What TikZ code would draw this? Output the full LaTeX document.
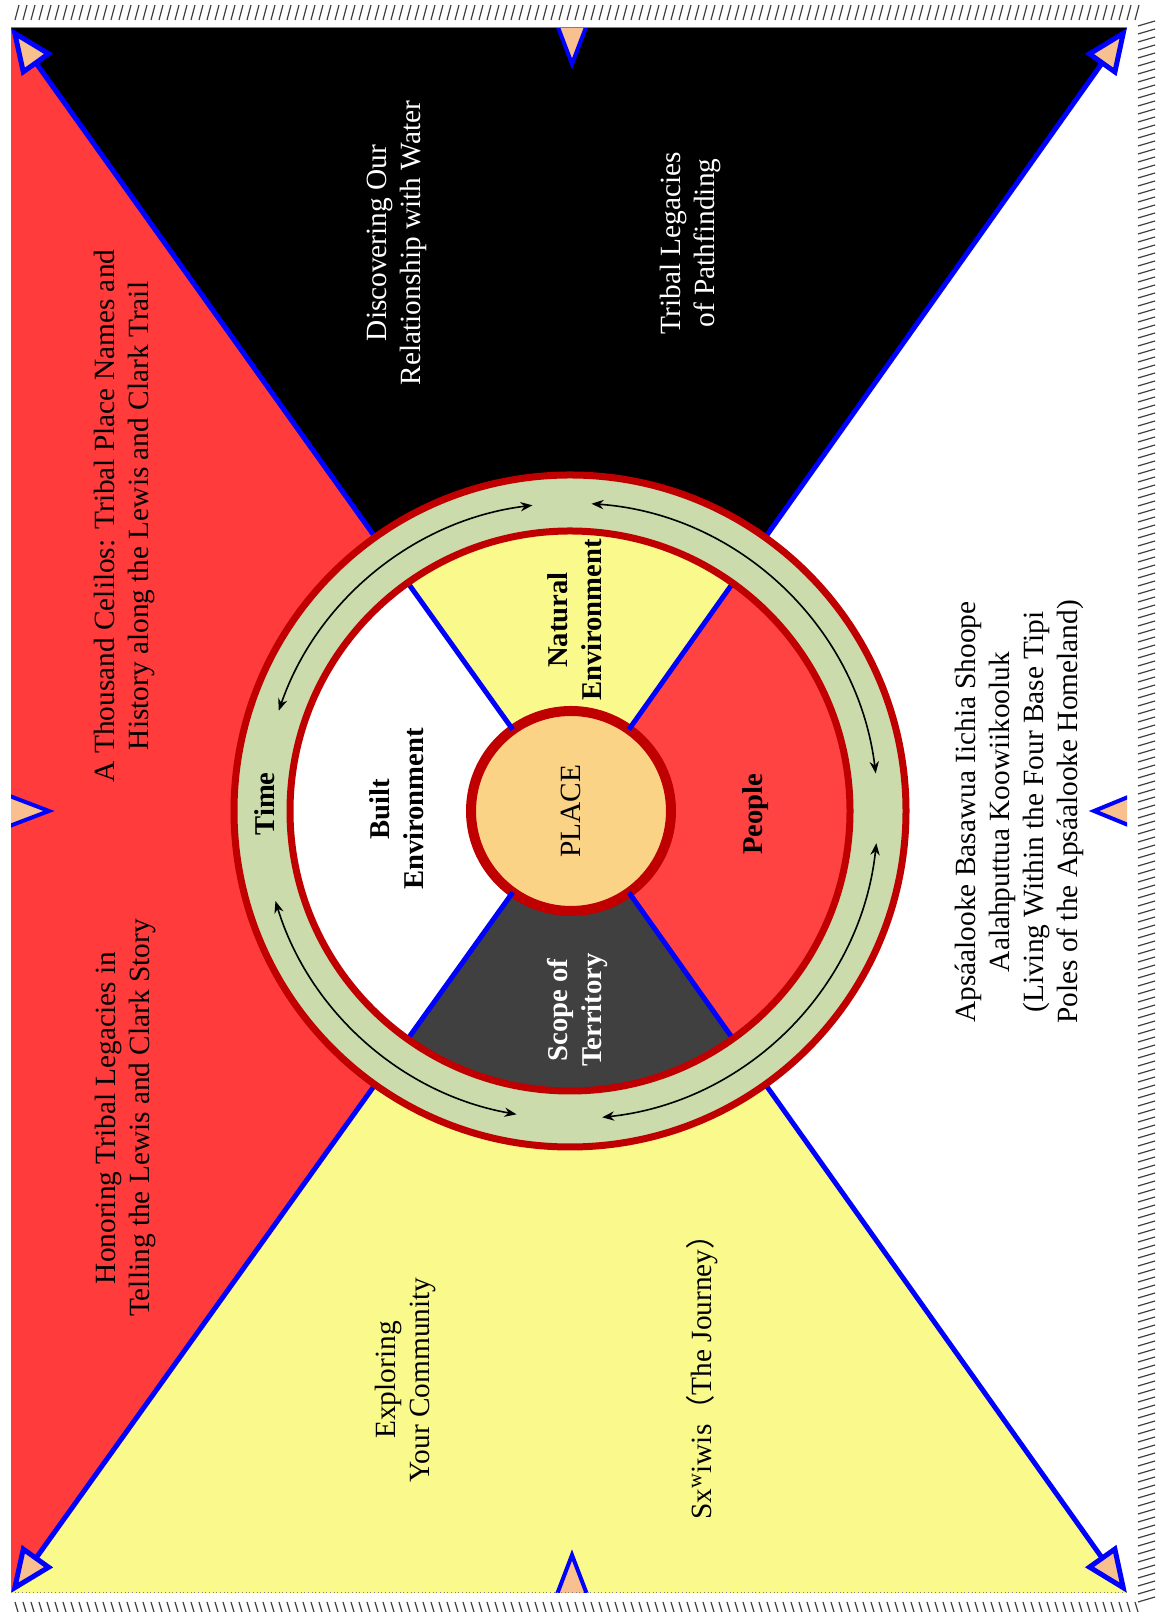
\documentclass[tikz,border=0pt]{standalone}
\usepackage{fontspec}
\setmainfont{Liberation Serif}
\newfontfamily\cjk{Noto Sans CJK SC}
\usetikzlibrary{arrows.meta}
\definecolor{fillred}{HTML}{FF3B3B}
\definecolor{fillyellow}{HTML}{FAFA8C}
\definecolor{peach}{HTML}{F8C08F}
\definecolor{ringgreen}{HTML}{CBDBAC}
\definecolor{darkred}{HTML}{C00000}
\definecolor{placefill}{HTML}{FBD386}
\definecolor{scopegray}{HTML}{404040}
\definecolor{peoplered}{HTML}{FF4343}
\begin{document}
\begin{tikzpicture}[x=0.75pt,y=0.75pt,
  lbl/.style={rotate=90, align=center, font=\fontsize{22}{25.5}\selectfont},
  blbl/.style={rotate=90, align=center, font=\fontsize{21.5}{25.5}\selectfont\bfseries},
  diag/.style={blue, line width=3.75pt, -{Triangle[length=34pt,width=28pt,fill=peach]}},
  midtri/.style={draw=blue, fill=peach, line width=3pt, line join=miter},
  redring/.style={darkred, line width=5.25pt},
  cycarrow/.style={black, line width=1.2pt, {Stealth[length=9pt,width=7pt]}-{Stealth[length=9pt,width=7pt]}},
  hatch/.style={black!75, line width=0.9pt}]
\useasboundingbox (0,0) rectangle (1160,1612);
\fill[white] (0,0) rectangle (1160,1612);
% corners and centre
\coordinate (TL) at (11,1584);
\coordinate (TR) at (1127,1584);
\coordinate (BR) at (1127,19);
\coordinate (BL) at (11,19);
\coordinate (C) at (570,801);
% outer quadrants
\fill[black] (TL) -- (TR) -- (C) -- cycle;
\fill[fillred] (TL) -- (BL) -- (C) -- cycle;
\fill[fillyellow] (BL) -- (BR) -- (C) -- cycle;
% inner sectors
\fill[fillyellow] (C) -- ++(54.6:280) arc[start angle=54.6,end angle=125.5,radius=280] -- cycle;
\fill[white] (C) -- ++(125.5:280) arc[start angle=125.5,end angle=234.4,radius=280] -- cycle;
\fill[scopegray] (C) -- ++(234.4:280) arc[start angle=234.4,end angle=305.5,radius=280] -- cycle;
\fill[peoplered] (C) -- ++(-54.5:280) arc[start angle=-54.5,end angle=54.6,radius=280] -- cycle;
% centre node
\node[circle, minimum size=150pt, inner sep=0pt, outer sep=0pt, fill=placefill, draw=darkred, line width=7.5pt,
      rotate=90, font=\fontsize{22}{26}\selectfont] (place) at (571,801) {PLACE};
% diagonals
\draw[diag] (place) -- (TL);
\draw[diag] (place) -- (TR);
\draw[diag] (place) -- (BR);
\draw[diag] (place) -- (BL);
% mid-edge triangles
\begin{scope}
\clip (BL) rectangle (TR);
\path[midtri] (572,1548) -- (556,1590) -- (588,1590) -- cycle;
\path[midtri] (572,57) -- (556,15) -- (588,15) -- cycle;
\path[midtri] (49,801) -- (7,785) -- (7,817) -- cycle;
\path[midtri] (1094,801) -- (1133,785) -- (1133,817) -- cycle;
\end{scope}
% ring
\fill[ringgreen, even odd rule] (C) circle[radius=336] (C) circle[radius=280];
\draw[redring] (C) circle[radius=336];
\draw[redring] (C) circle[radius=280];
% cycle arrows
\draw[cycarrow] (C) ++(161:308) arc[start angle=161,end angle=97,radius=308];
\draw[cycarrow] (C) ++(86:308) arc[start angle=86,end angle=7,radius=308];
\draw[cycarrow] (C) ++(-6:308) arc[start angle=-6,end angle=-84,radius=308];
\draw[cycarrow] (C) ++(260:308) arc[start angle=260,end angle=197,radius=308];
% ring / sector labels
\node[blbl] (time) at (265,808) {Time};
\node[blbl] (built) at (397,803) {Built\\Environment};
\node[blbl] (natural) at (575,992) {Natural\\Environment};
\node[blbl] (people) at (756,798) {People};
\node[blbl, text=white] (scope) at (577,602) {Scope of\\Territory};
% quadrant labels
\node[lbl] (celilos) at (124,1096) {A Thousand Celilos: Tribal Place Names and\\History along the Lewis and Clark Trail};
\node[lbl] (honoring) at (125,494) {Honoring Tribal Legacies in\\Telling the Lewis and Clark Story};
\node[lbl, text=white] (water) at (397,1369) {Discovering Our\\Relationship with Water};
\node[lbl, text=white] (pathfinding) at (690,1369) {Tribal Legacies\\of Pathfinding};
\node[lbl] (exploring) at (405,232) {Exploring\\Your Community};
\node[lbl] (journey) at (702,242) {Sx\textsuperscript{w}iwis{\cjk （}The Journey{\cjk ）}};
\node[lbl] (apsaalooke) at (1019,800) {Aps\'aalooke Basawua Iichia Shoope\\Aalahputtua Koowiikooluk\\(Living Within the Four Base Tipi\\Poles of the Aps\'aalooke Homeland)};
% frame and hatching
\draw[gray, line width=0.75pt] (TL) -- (TR);
\draw[gray, line width=0.75pt, dotted] (BL) -- (BR);
\foreach \x in {15,23,...,1135} \draw[hatch] (\x,1592) -- ++(4,15);
\foreach \y in {10,18,...,1590} \draw[hatch] (1138,\y) -- ++(17,5);
\foreach \x in {15,23,...,1140} \draw[hatch] (\x,10) -- ++(3,-10);
\end{tikzpicture}
\end{document}
